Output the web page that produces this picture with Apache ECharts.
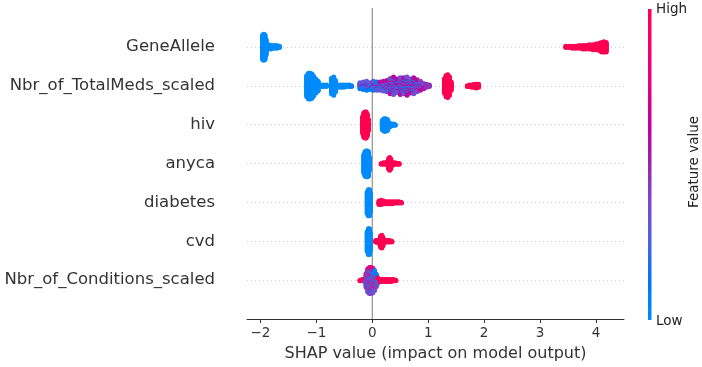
<!DOCTYPE html>
<html><head><meta charset="utf-8">
<script src="https://cdn.jsdelivr.net/npm/echarts@6/dist/echarts.min.js"></script>
<style>html,body{margin:0;padding:0;background:#fff}#c{width:702px;height:367px}</style>
</head><body><div id="c"></div>
<script>
const features = ['GeneAllele', 'Nbr_of_TotalMeds_scaled', 'hiv', 'anyca', 'diabetes', 'cvd', 'Nbr_of_Conditions_scaled'];
const xTicks = [-2, -1, 0, 1, 2, 3, 4];
const xLabel = 'SHAP value (impact on model output)';
const colorLabel = 'Feature value';
const colorEnds = ['High', 'Low'];

// each entry: [SHAP value, number of points, feature value (0 = low, 1 = high)]
const geneAllele = [
  [-1.96, 34, 0], [-1.94, 36, 0], [-1.92, 34, 0], [-1.90, 22, 0], [-1.86, 7, 0], [-1.81, 6, 0],
  [-1.76, 5, 0], [-1.71, 5, 0], [-1.66, 3, 0],
  [3.46, 3, 1], [3.52, 3, 1], [3.58, 4, 1], [3.64, 4, 1], [3.70, 5, 1], [3.76, 6, 1], [3.82, 6, 1],
  [3.88, 7, 1], [3.94, 8, 1], [4.00, 9, 1], [4.06, 11, 1], [4.10, 14, 1], [4.14, 15, 1], [4.18, 14, 1]
];
const totalMeds = [
  [-1.17, 30, 0], [-1.14, 36, 0], [-1.11, 36, 0], [-1.08, 34, 0], [-1.05, 28, 0], [-1.01, 20, 0], [-0.97, 14, 0],
  [-0.92, 3, 0], [-0.87, 3, 0], [-0.82, 3, 0],
  [-0.73, 22, 0], [-0.69, 26, 0], [-0.66, 16, 0],
  [-0.61, 4, 0], [-0.56, 4, 0], [-0.51, 4, 0], [-0.46, 3, 0], [-0.41, 3, 0], [-0.37, 2, 0.05],
  [-0.22, 4, 0.3], [-0.22, 3, 0.1], [-0.22, 2, 0.6],
  [-0.16, 5, 0.3], [-0.16, 4, 0.1], [-0.16, 2, 0.6],
  [-0.10, 6, 0.3], [-0.10, 4, 0.1], [-0.10, 3, 0.6],
  [-0.04, 4, 0.3], [-0.04, 4, 0.1], [-0.04, 2, 0.6],
  [0.02, 6, 0.3], [0.02, 4, 0.1], [0.02, 3, 0.6],
  [0.08, 5, 0.3], [0.08, 4, 0.1], [0.08, 3, 0.6],
  [0.14, 6, 0.3], [0.14, 3, 0.1], [0.14, 3, 0.6],
  [0.20, 6, 0.3], [0.20, 4, 0.15], [0.20, 4, 0.6],
  [0.26, 6, 0.6], [0.26, 6, 0.33], [0.26, 4, 0.15],
  [0.32, 9, 0.6], [0.32, 8, 0.33], [0.32, 5, 0.15],
  [0.38, 10, 0.6], [0.38, 9, 0.33], [0.38, 6, 0.15],
  [0.44, 8, 0.6], [0.44, 6, 0.33], [0.44, 5, 0.15],
  [0.50, 10, 0.6], [0.50, 8, 0.33], [0.50, 6, 0.15],
  [0.56, 9, 0.6], [0.56, 8, 0.33], [0.56, 6, 0.15],
  [0.62, 10, 0.6], [0.62, 9, 0.33], [0.62, 7, 0.15],
  [0.68, 8, 0.6], [0.68, 7, 0.33], [0.68, 5, 0.15],
  [0.74, 9, 0.6], [0.74, 8, 0.33], [0.74, 6, 0.15],
  [0.80, 7, 0.6], [0.80, 6, 0.33], [0.80, 4, 0.15],
  [0.86, 5, 0.6], [0.86, 5, 0.4], [0.86, 3, 0.2],
  [0.92, 4, 0.4], [0.92, 4, 0.55], [0.97, 5, 0.45], [1.02, 3, 0.45],
  [1.29, 20, 1], [1.32, 30, 1], [1.35, 32, 1], [1.38, 26, 1], [1.41, 12, 1],
  [1.70, 2, 1], [1.74, 3, 1], [1.78, 4, 1], [1.82, 5, 1], [1.86, 6, 1], [1.90, 5, 1]
];
const hiv = [
  [-0.17, 24, 1], [-0.15, 34, 1], [-0.13, 36, 1], [-0.11, 36, 1], [-0.09, 30, 1], [-0.07, 16, 1],
  [0.18, 14, 0], [0.21, 18, 0], [0.24, 18, 0], [0.27, 16, 0], [0.30, 8, 0], [0.34, 4, 0], [0.38, 3, 0], [0.41, 2, 0]
];
const anyca = [
  [-0.15, 26, 0], [-0.13, 34, 0], [-0.11, 36, 0], [-0.09, 36, 0], [-0.07, 34, 0], [-0.05, 18, 0],
  [0.16, 2, 1], [0.20, 3, 1], [0.24, 3, 1], [0.27, 5, 1], [0.29, 14, 1], [0.31, 18, 1], [0.33, 14, 1],
  [0.37, 4, 1], [0.41, 3, 1], [0.45, 2, 1], [0.48, 2, 1]
];
const diabetes = [
  [-0.09, 30, 0], [-0.07, 36, 0], [-0.05, 36, 0], [-0.04, 28, 0],
  [0.12, 6, 1], [0.16, 7, 1], [0.20, 5, 1], [0.24, 4, 1], [0.28, 4, 1], [0.32, 4, 1], [0.36, 4, 1],
  [0.40, 3, 1], [0.44, 3, 1], [0.48, 3, 1], [0.52, 2, 1]
];
const cvd = [
  [-0.09, 28, 0], [-0.07, 36, 0], [-0.05, 36, 0], [-0.04, 26, 0],
  [0.06, 3, 1], [0.09, 3, 1], [0.12, 6, 1], [0.15, 16, 1], [0.17, 18, 1], [0.19, 12, 1],
  [0.23, 3, 1], [0.27, 3, 1], [0.31, 3, 1], [0.35, 2, 1]
];
const conditions = [
  [-0.22, 2, 1], [-0.18, 3, 1], [-0.14, 3, 1], [-0.14, 2, 0.35],
  [-0.11, 12, 0.35], [-0.11, 4, 0.15], [-0.11, 4, 0.85],
  [-0.08, 18, 0.35], [-0.08, 6, 0.1], [-0.08, 8, 0.8],
  [-0.05, 20, 0.4], [-0.05, 8, 0.1], [-0.05, 8, 0.9],
  [-0.02, 20, 0.4], [-0.02, 8, 0.05], [-0.02, 8, 0.65],
  [0.01, 18, 0.35], [0.01, 8, 0.1], [0.01, 8, 0.8],
  [0.04, 14, 0.35], [0.04, 8, 0.05], [0.04, 6, 0.9],
  [0.07, 8, 0.4], [0.07, 6, 0.1], [0.07, 4, 1],
  [0.10, 4, 0.3], [0.10, 2, 0.05], [0.10, 2, 1],
  [0.14, 4, 1], [0.18, 4, 1], [0.22, 4, 0.95], [0.26, 4, 1], [0.30, 4, 1], [0.34, 4, 1], [0.38, 3, 1], [0.42, 2, 1]
];
const rows = [geneAllele, totalMeds, hiv, anyca, diabetes, cvd, conditions];

const cmap = ['#008bfb', '#0078f3', '#4b63e3', '#7d49cc', '#9b24ad', '#c2009c', '#e00086', '#f5006c', '#ff0052'];

// beeswarm layout: points sharing a SHAP value are stacked alternately above/below the row
function buildRow(bins, rowIdx) {
  const groups = [], map = {};
  bins.forEach(([x, n, f]) => {
    const k = String(x);
    if (!map[k]) { map[k] = { x: x, items: [] }; groups.push(map[k]); }
    for (let j = 0; j < n; j++) map[k].items.push({ f: f, key: (j + 0.5) / n });
  });
  let maxYs = 0;
  const raw = [];
  groups.forEach(g => {
    g.items.sort((a, b) => a.key - b.key);
    g.items.forEach((it, layer) => {
      const ys = Math.ceil(layer / 2) * ((layer % 2) * 2 - 1);
      maxYs = Math.max(maxYs, Math.abs(ys));
      raw.push([g.x, ys, it.f]);
    });
  });
  const scale = 0.36 / (maxYs + 1);
  return raw.map(([x, ys, f]) => [x, rowIdx + ys * scale, f]);
}
const points = [];
rows.forEach((r, i) => buildRow(r, i).forEach(p => points.push(p)));

const FONT = 'DejaVu Sans';
const chart = echarts.init(document.getElementById('c'), null, { renderer: 'canvas' });
chart.setOption({
  animation: false,
  backgroundColor: '#ffffff',
  textStyle: { fontFamily: FONT },
  grid: { left: 247, right: 78, top: 8, bottom: 46 },
  xAxis: {
    type: 'value', min: -2.24, max: 4.5,
    axisLine: { show: true, onZero: false, lineStyle: { color: '#333333', width: 1 } },
    axisTick: { show: true, length: 4, customValues: xTicks, lineStyle: { color: '#333333' } },
    axisLabel: {
      customValues: xTicks, fontSize: 13.5, color: '#333333', margin: 7, fontFamily: FONT,
      formatter: v => (v < 0 ? '\u2212' + Math.abs(v) : String(v))
    },
    splitLine: { show: false },
    name: xLabel, nameLocation: 'middle', nameGap: 27,
    nameTextStyle: { fontSize: 16, color: '#333333', fontFamily: FONT }
  },
  yAxis: {
    type: 'value', min: -1, max: 7, interval: 1, inverse: true,
    axisLine: { show: false }, axisTick: { show: false },
    axisLabel: {
      fontSize: 16.5, color: '#333333', margin: 32, fontFamily: FONT, padding: [7, 0, 0, 0],
      formatter: v => (features[v] !== undefined ? features[v] : '')
    },
    splitLine: { show: true, showMinLine: false, showMaxLine: false,
      lineStyle: { color: '#cccccc', width: 1, type: [1, 3] } }
  },
  visualMap: {
    show: false, type: 'continuous', dimension: 2, min: 0, max: 1, seriesIndex: 1,
    inRange: { color: cmap }
  },
  series: [
    {
      type: 'line', data: [[0, -1], [0, 7]], symbol: 'none', silent: true, z: 1,
      lineStyle: { color: '#999999', width: 1.3 }
    },
    {
      type: 'scatter', data: points, symbolSize: 5, z: 2, silent: true,
      itemStyle: { opacity: 1, borderWidth: 0 }
    }
  ],
  graphic: [
    {
      type: 'rect', shape: { x: 648, y: 9, width: 3.5, height: 311 }, silent: true,
      style: {
        fill: new echarts.graphic.LinearGradient(0, 1, 0, 0,
          cmap.map((c, i) => ({ offset: i / (cmap.length - 1), color: c })))
      }
    },
    { type: 'text', x: 656, y: 9, silent: true,
      style: { text: colorEnds[0], fontSize: 13.5, fontFamily: FONT, fill: '#222', textVerticalAlign: 'middle' } },
    { type: 'text', x: 656, y: 321, silent: true,
      style: { text: colorEnds[1], fontSize: 13.5, fontFamily: FONT, fill: '#222', textVerticalAlign: 'middle' } },
    { type: 'text', x: 694, y: 162, rotation: Math.PI / 2, silent: true,
      style: { text: colorLabel, fontSize: 13.5, fontFamily: FONT, fill: '#222', textAlign: 'center', textVerticalAlign: 'middle' } }
  ]
});
</script>
</body></html>
